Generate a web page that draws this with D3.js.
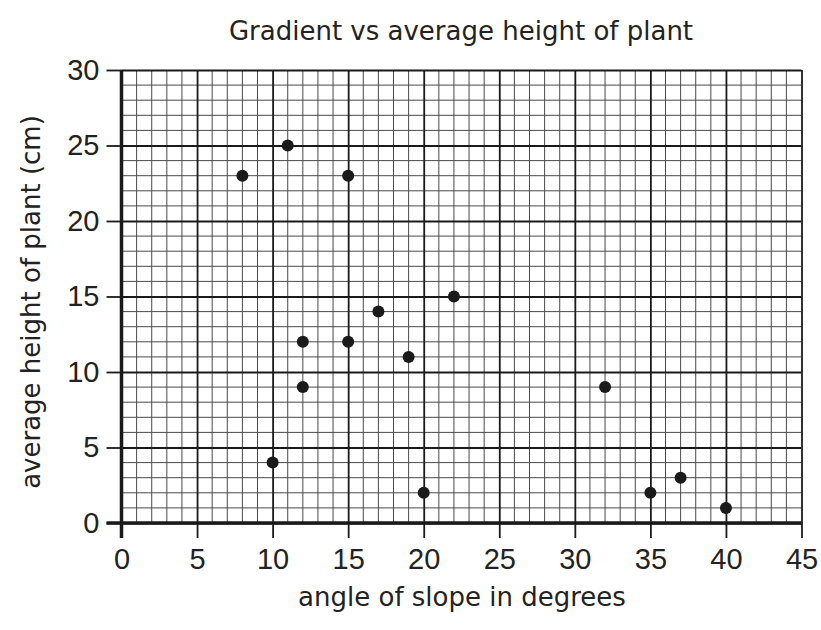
<!DOCTYPE html>
<html>
<head>
<meta charset="utf-8">
<script src="https://cdn.jsdelivr.net/npm/d3@7"></script>
<style>
body { margin: 0; background: #fff; }
text { font-family: "DejaVu Sans", sans-serif; fill: #222; }
</style>
</head>
<body>
<script>
// angle of slope (degrees) and average plant height (cm)
var angles  = [8, 11, 15, 22, 17, 12, 15, 19, 12, 32, 10, 20, 35, 37, 40];
var heights = [23, 25, 23, 15, 14, 12, 12, 11, 9, 9, 4, 2, 2, 3, 1];
var xTicks = [0, 5, 10, 15, 20, 25, 30, 35, 40, 45];
var yTicks = [0, 5, 10, 15, 20, 25, 30];

var width = 821
var height = 630
var tickFont = "'Liberation Sans Narrow', 'Liberation Sans', sans-serif"

var svg = d3.select("body")
			.append("svg")
			.attr("width", width)
			.attr("height", height)

var x = d3.scaleLinear().domain([0, 45]).range([121.5, 801.5])
var y = d3.scaleLinear().domain([0, 30]).range([523, 70])

// minor grid, every 1 unit
var grid = svg.append("g")
grid.selectAll("line.vx")
	.data(d3.range(1, 45).filter(function(d) { return d % 5 != 0 }))
	.enter().append("line")
	.attr("x1", function(d) { return x(d) }).attr("x2", function(d) { return x(d) })
	.attr("y1", y(0)).attr("y2", y(30))
	.style("stroke", "#4a4a4a").style("stroke-width", 1)
grid.selectAll("line.hy")
	.data(d3.range(1, 30).filter(function(d) { return d % 5 != 0 }))
	.enter().append("line")
	.attr("y1", function(d) { return y(d) }).attr("y2", function(d) { return y(d) })
	.attr("x1", x(0)).attr("x2", x(45))
	.style("stroke", "#4a4a4a").style("stroke-width", 1)

// major grid every 5
svg.append("g")
	.attr("transform", "translate(0," + y(0) + ")")
	.call(d3.axisBottom(x).tickValues(xTicks).tickSize(-(y(0) - y(30))).tickSizeOuter(0).tickFormat(""))
	.call(function(g) {
		g.select(".domain").remove()
		g.selectAll(".tick line").style("stroke", "#1a1a1a").style("stroke-width", 1.8)
	})
svg.append("g")
	.attr("transform", "translate(" + x(0) + ",0)")
	.call(d3.axisLeft(y).tickValues(yTicks).tickSize(-(x(45) - x(0))).tickSizeOuter(0).tickFormat(""))
	.call(function(g) {
		g.select(".domain").remove()
		g.selectAll(".tick line").style("stroke", "#1a1a1a").style("stroke-width", 1.8)
	})

// outer tick marks and labels
var xAxis = svg.append("g")
	.attr("transform", "translate(0," + y(0) + ")")
	.call(d3.axisBottom(x).tickValues(xTicks).tickSize(15).tickPadding(10).tickSizeOuter(0))
xAxis.select(".domain").remove()
xAxis.selectAll(".tick line").style("stroke", "#1a1a1a").style("stroke-width", 1.8)
xAxis.selectAll(".tick text").style("font-size", "29px").style("font-family", tickFont).style("fill", "#222")

var yAxis = svg.append("g")
	.attr("transform", "translate(" + x(0) + ",0)")
	.call(d3.axisLeft(y).tickValues(yTicks).tickSize(15).tickPadding(7).tickSizeOuter(0))
yAxis.select(".domain").remove()
yAxis.selectAll(".tick line").style("stroke", "#1a1a1a").style("stroke-width", 1.8)
yAxis.selectAll(".tick text").style("font-size", "29px").style("font-family", tickFont).style("fill", "#222")

// thick axes
svg.append("line")
	.attr("x1", x(0) - 15).attr("x2", x(45))
	.attr("y1", y(0)).attr("y2", y(0))
	.style("stroke", "#1a1a1a").style("stroke-width", 3.5)
svg.append("line")
	.attr("x1", x(0)).attr("x2", x(0))
	.attr("y1", y(30)).attr("y2", y(0) + 15)
	.style("stroke", "#1a1a1a").style("stroke-width", 3.5)

// points
svg.selectAll("circle")
	.data(angles)
	.enter()
	.append("circle")
	.attr("cx", function(d) { return x(d) })
	.attr("cy", function(d, i) { return y(heights[i]) })
	.attr("r", 6)
	.style("fill", "#1a1a1a")

// titles
svg.append("text")
	.attr("x", 461).attr("y", 40)
	.attr("text-anchor", "middle")
	.style("font-size", "26px")
	.text("Gradient vs average height of plant")
svg.append("text")
	.attr("x", 462).attr("y", 606)
	.attr("text-anchor", "middle")
	.style("font-size", "26px")
	.text("angle of slope in degrees")
svg.append("text")
	.attr("transform", "translate(40,302) rotate(-90)")
	.attr("text-anchor", "middle")
	.style("font-size", "26px")
	.text("average height of plant (cm)")
</script>
</body>
</html>
